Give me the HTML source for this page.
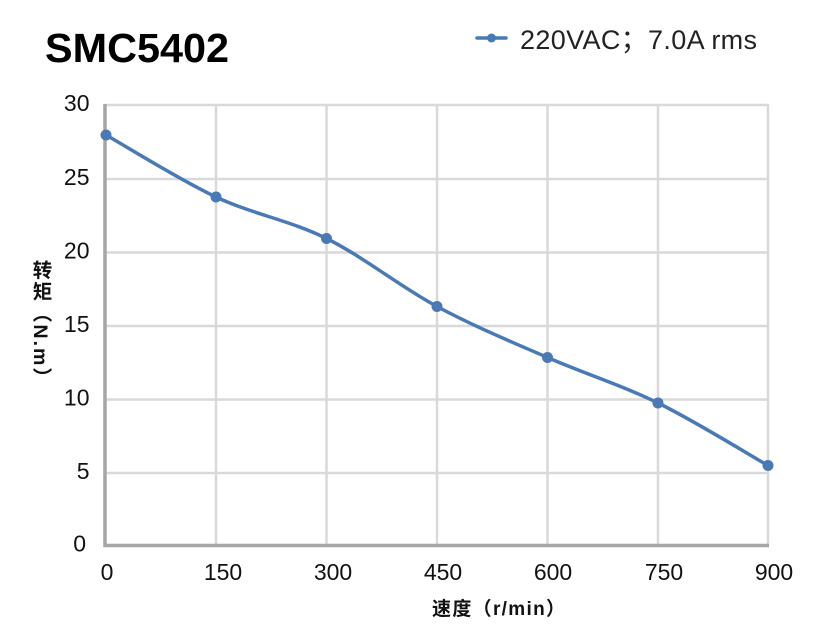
<!DOCTYPE html>
<html>
<head>
<meta charset="utf-8">
<style>
  html, body { margin:0; padding:0; background:#ffffff; }
  body { width:831px; height:640px; position:relative; overflow:hidden; }
  svg { position:absolute; left:0; top:0; }
  .ylab {
    position:absolute; left:29px; top:260px; width:22px; height:130px;
    writing-mode: vertical-rl;
    font-family: "Liberation Sans", "Noto Sans CJK SC", sans-serif;
    font-weight: bold; font-size: 19.5px; line-height: 22px; color:#111;
    letter-spacing: 2px;
  }
</style>
</head>
<body>
<svg width="831" height="640" viewBox="0 0 831 640" xmlns="http://www.w3.org/2000/svg">
  <!-- gridlines -->
  <g stroke="#d9d9d9" stroke-width="2.5" fill="none">
    <line x1="105" y1="105" x2="769" y2="105"/>
    <line x1="105" y1="179" x2="769" y2="179"/>
    <line x1="105" y1="252.5" x2="769" y2="252.5"/>
    <line x1="105" y1="326" x2="769" y2="326"/>
    <line x1="105" y1="399.5" x2="769" y2="399.5"/>
    <line x1="105" y1="473" x2="769" y2="473"/>
    <line x1="216" y1="105" x2="216" y2="546"/>
    <line x1="326.5" y1="105" x2="326.5" y2="546"/>
    <line x1="437" y1="105" x2="437" y2="546"/>
    <line x1="547.5" y1="105" x2="547.5" y2="546"/>
    <line x1="658" y1="105" x2="658" y2="546"/>
    <line x1="768" y1="105" x2="768" y2="546"/>
  </g>
  <!-- axes -->
  <g stroke="#a6a6a6" stroke-width="3.5" fill="none">
    <line x1="105" y1="104" x2="105" y2="547"/>
    <line x1="103.5" y1="545.5" x2="769" y2="545.5"/>
  </g>
  <!-- series -->
  <path d="M106,135 C124.3,145.3 179.25,179.75 216,197 C252.75,214.25 289.67,220.25 326.5,238.5 C363.33,256.75 400.17,286.67 437,306.5 C473.83,326.33 510.67,341.42 547.5,357.5 C584.33,373.58 621.25,385 658,403 C694.75,421 749.67,455.08 768,465.5"
        fill="none" stroke="#4a7ab5" stroke-width="3.5" stroke-linejoin="round" stroke-linecap="round"/>
  <g fill="#4a7ab5">
    <circle cx="106" cy="135" r="5.5"/>
    <circle cx="216" cy="197" r="5.5"/>
    <circle cx="326.5" cy="238.5" r="5.5"/>
    <circle cx="437" cy="306.5" r="5.5"/>
    <circle cx="547.5" cy="357.5" r="5.5"/>
    <circle cx="658" cy="403" r="5.5"/>
    <circle cx="768" cy="465.5" r="5.5"/>
  </g>
  <!-- y tick labels -->
  <g font-family="'Liberation Sans', sans-serif" font-size="23" fill="#111" text-anchor="end">
    <text x="89.5" y="111">30</text>
    <text x="89.5" y="185">25</text>
    <text x="89.5" y="258.5">20</text>
    <text x="89.5" y="332">15</text>
    <text x="89.5" y="405.5">10</text>
    <text x="89.5" y="479">5</text>
    <text x="86" y="551.5">0</text>
  </g>
  <!-- x tick labels -->
  <g font-family="'Liberation Sans', sans-serif" font-size="23" fill="#111" text-anchor="middle">
    <text x="107" y="580">0</text>
    <text x="223" y="580">150</text>
    <text x="333" y="580">300</text>
    <text x="443" y="580">450</text>
    <text x="553" y="580">600</text>
    <text x="664" y="580">750</text>
    <text x="774" y="580">900</text>
  </g>
  <!-- title -->
  <text x="45" y="62" font-family="'Liberation Sans', sans-serif" font-weight="bold" font-size="41" fill="#000" textLength="184" lengthAdjust="spacingAndGlyphs">SMC5402</text>
  <!-- legend -->
  <line x1="477" y1="38" x2="506" y2="38" stroke="#4a7ab5" stroke-width="3.5" stroke-linecap="round"/>
  <circle cx="491.5" cy="38" r="4.5" fill="#4a7ab5"/>
  <text x="520" y="49" font-family="'Liberation Sans', 'Noto Sans CJK SC', sans-serif" font-size="27" fill="#222" textLength="237" lengthAdjust="spacing">220VAC；7.0A rms</text>
  <!-- x axis title -->
  <text x="432" y="615" font-family="'Liberation Sans', 'Noto Sans CJK SC', sans-serif" font-weight="bold" font-size="19" fill="#111" textLength="133" lengthAdjust="spacing">速度（r/min）</text>
</svg>
<div class="ylab">转矩（N.m）</div>
</body>
</html>
